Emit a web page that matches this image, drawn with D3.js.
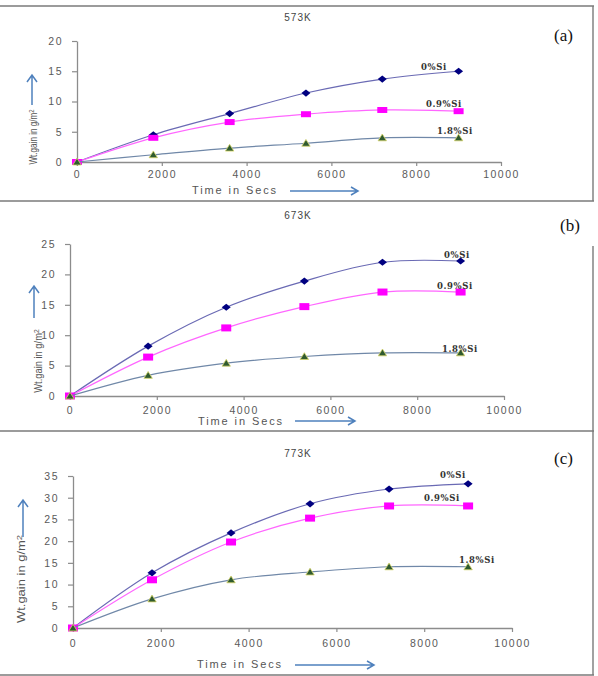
<!DOCTYPE html>
<html>
<head>
<meta charset="utf-8">
<script src="https://cdn.jsdelivr.net/npm/d3@7"></script>
<style>
  body { margin: 0; background: #fff; }
  svg { display: block; }
</style>
</head>
<body>
<div id="chart"></div>
<script>
// data
const times = [0, 1800, 3600, 5400, 7200, 9000];
const seriesNames = ["0%Si", "0.9%Si", "1.8%Si"];
const temps = ["573K", "673K", "773K"];
const panelTags = ["(a)", "(b)", "(c)"];
const xTicks = [0, 2000, 4000, 6000, 8000, 10000];

const si0_573 = [0, 4.5, 8.0, 11.4, 13.7, 15.0];
const si09_573 = [0, 4.0, 6.6, 7.9, 8.6, 8.4];
const si18_573 = [0, 1.2, 2.3, 3.1, 4.0, 4.0];

const si0_673 = [0, 8.2, 14.6, 18.9, 22.0, 22.2];
const si09_673 = [0, 6.4, 11.2, 14.7, 17.1, 17.1];
const si18_673 = [0, 3.4, 5.4, 6.5, 7.1, 7.1];

const si0_773 = [0, 12.7, 21.9, 28.6, 32.0, 33.2];
const si09_773 = [0, 11.1, 19.8, 25.3, 28.1, 28.1];
const si18_773 = [0, 6.7, 11.1, 12.9, 14.1, 14.1];

const yMaxes = [20, 25, 35];

// layout of the three stacked panels
const layout = [
  { x0: 77, x1: 501, yb: 162, yt: 41, xLab: 16, title: 21, tag: [554, 41],
    timeX: 192, timeY: 194, arrowH: [290, 358, 191], arrowV: [32, 105, 75], yl: [33, 137, 0.74],
    sq: [10, 6],
    labels: [[421, 70], [426, 107], [437, 134]], series: [si0_573, si09_573, si18_573] },
  { x0: 70, x1: 504, yb: 396, yt: 244, xLab: 18, title: 219, tag: [560, 231],
    timeX: 198, timeY: 425, arrowH: [295, 355, 421], arrowV: [34, 318, 286], yl: [38, 361, 0.85],
    sq: [10, 7],
    labels: [[444, 258], [437, 289], [442, 352]], series: [si0_673, si09_673, si18_673] },
  { x0: 73, x1: 512, yb: 628, yt: 476, xLab: 19, title: 457, tag: [554, 464],
    timeX: 197, timeY: 668, arrowH: [295, 374, 665], arrowV: [23, 537, 500], yl: [21, 579, 1.18],
    sq: [10, 7],
    labels: [[440, 478], [424, 501], [459, 563]], series: [si0_773, si09_773, si18_773] }
];

const lineColors = ["#6a6ab4", "#ff66ff", "#7088a8"];
const markFill = ["#000080", "#ff00ff", "#2f5a2f"];

const W = 598, H = 676;
const svg = d3.select("#chart").append("svg")
    .attr("width", W).attr("height", H);

// frame lines
const frame = svg.append("g").attr("stroke", "#7a7a7a").attr("stroke-width", 1.4);
[6, 201, 431, 675].forEach(y => {
  frame.append("line").attr("x1", 0).attr("x2", 594).attr("y1", y).attr("y2", y);
});
frame.append("line").attr("x1", 593).attr("x2", 593).attr("y1", 6).attr("y2", 201);
frame.append("line").attr("x1", 593).attr("x2", 593).attr("y1", 246).attr("y2", 675);

const arrowBlue = "#4f81bd";

layout.forEach((p, i) => {
  const g = svg.append("g");
  const xScale = d3.scaleLinear().domain([0, 10000]).range([p.x0, p.x1]);
  const yScale = d3.scaleLinear().domain([0, yMaxes[i]]).range([p.yb, p.yt]);

  // x axis
  const xAxis = g.append("g")
      .attr("transform", "translate(0," + p.yb + ")")
      .call(d3.axisBottom(xScale).tickValues(xTicks).tickFormat(d3.format("d"))
        .tickSize(4).tickPadding(p.xLab - 11).tickSizeOuter(0));
  // y axis
  const yAxis = g.append("g")
      .attr("transform", "translate(" + p.x0 + ",0)")
      .call(d3.axisLeft(yScale).tickValues(d3.range(0, yMaxes[i] + 1, 5)).tickFormat(d3.format("d"))
        .tickSize(5).tickPadding(9).tickSizeOuter(0));

  [xAxis, yAxis].forEach(a => {
    a.select(".domain").attr("stroke", "#8c8c8c").attr("stroke-width", 1.3);
    a.selectAll(".tick line").attr("stroke", "#8c8c8c").attr("stroke-width", 1.2);
    a.selectAll(".tick text")
      .attr("fill", "#5a5a5a")
      .style("font-family", "Liberation Sans, Arial, sans-serif")
      .style("font-size", "10.5px")
      .style("letter-spacing", "1.5px");
  });

  // title
  g.append("text")
    .attr("x", 298).attr("y", p.title)
    .attr("text-anchor", "middle")
    .attr("fill", "#444")
    .style("font-family", "Liberation Sans, Arial, sans-serif")
    .style("font-size", "10px")
    .style("letter-spacing", "1px")
    .text(temps[i]);

  // panel tag
  g.append("text")
    .attr("x", p.tag[0]).attr("y", p.tag[1])
    .attr("fill", "#111")
    .style("font-family", "Liberation Serif, Times New Roman, serif")
    .style("font-size", "17px")
    .text(panelTags[i]);

  // x label
  g.append("text")
    .attr("x", p.timeX).attr("y", p.timeY)
    .attr("fill", "#555")
    .style("font-family", "Liberation Sans, Arial, sans-serif")
    .style("font-size", "11px")
    .style("letter-spacing", "1.9px")
    .text("Time in Secs");

  // y label
  const yl = g.append("text")
    .attr("transform", "translate(" + p.yl[0] + "," + p.yl[1] + ") rotate(-90) scale(" + p.yl[2] + ",1)")
    .attr("text-anchor", "middle")
    .attr("dy", "0.35em")
    .attr("fill", "#555")
    .style("font-family", "Liberation Sans, Arial, sans-serif")
    .style("font-size", "11px");
  yl.append("tspan").text("Wt.gain in g/m");
  yl.append("tspan").attr("dy", "-0.4em").style("font-size", "8px").text("2");

  // arrows
  const [hx1, hx2, hy] = p.arrowH;
  g.append("path")
    .attr("d", "M" + hx1 + "," + hy + "H" + hx2 + "M" + (hx2 - 7) + "," + (hy - 4) + "L" + hx2 + "," + hy + "L" + (hx2 - 7) + "," + (hy + 4))
    .attr("fill", "none").attr("stroke", arrowBlue).attr("stroke-width", 1.5);
  const [vx, vy1, vy2] = p.arrowV;
  g.append("path")
    .attr("d", "M" + vx + "," + vy1 + "V" + vy2 + "M" + (vx - 5) + "," + (vy2 + 7) + "L" + vx + "," + vy2 + "L" + (vx + 5) + "," + (vy2 + 7))
    .attr("fill", "none").attr("stroke", arrowBlue).attr("stroke-width", 1.5);

  const line = d3.line()
    .x((d, j) => xScale(times[j]))
    .y(d => yScale(d))
    .curve(d3.curveCatmullRom.alpha(0.5));

  p.series.forEach((vals, s) => {
    g.append("path")
      .datum(vals)
      .attr("d", line)
      .attr("fill", "none")
      .attr("stroke", lineColors[s])
      .attr("stroke-width", 1.2);

    const pts = g.append("g").selectAll("path")
      .data(vals)
      .join("path")
      .attr("transform", (d, j) => "translate(" + xScale(times[j]) + "," + yScale(d) + ")");
    if (s === 0) {
      pts.attr("d", "M0,-3.6L4.5,0L0,3.6L-4.5,0Z").attr("fill", markFill[0]);
    } else if (s === 1) {
      const w = p.sq[0], h = p.sq[1];
      pts.attr("d", "M" + (-w / 2) + "," + (-h / 2) + "h" + w + "v" + h + "h" + (-w) + "Z").attr("fill", markFill[1]);
    } else {
      pts.attr("d", "M0,-3.8L4.2,3L-4.2,3Z").attr("fill", markFill[2])
        .attr("stroke", "#d6d46a").attr("stroke-width", 0.8);
    }

    // series label
    g.append("text")
      .attr("x", p.labels[s][0]).attr("y", p.labels[s][1])
      .attr("fill", "#333")
      .style("font-family", "DejaVu Serif, serif")
      .style("font-weight", "bold")
      .style("font-size", "8.5px")
      .style("letter-spacing", "0.6px")
      .text(seriesNames[s]);
  });
});
</script>
</body>
</html>
